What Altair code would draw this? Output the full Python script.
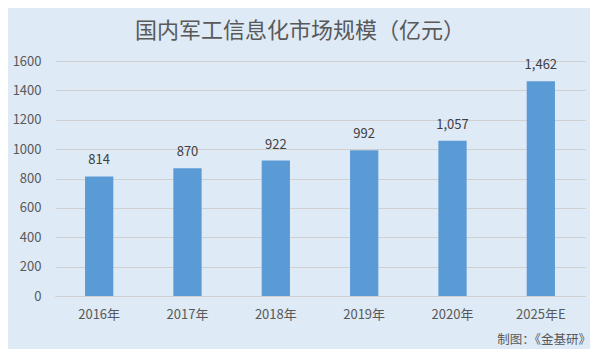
import altair as alt
import pandas as pd

years = ["2016年", "2017年", "2018年", "2019年", "2020年", "2025年E"]
values = [814, 870, 922, 992, 1057, 1462]

df = pd.DataFrame({"year": years, "value": values})

BG = "#DEEAF6"
TXT = "#595959"
FONT = "Noto Sans CJK SC"

base = alt.Chart(df).encode(
    x=alt.X("year:N", sort=years, title=None,
            scale=alt.Scale(paddingInner=0.68, paddingOuter=0.34),
            axis=alt.Axis(labelAngle=0, labelFontSize=13, labelColor=TXT,
                          labelFont=FONT, ticks=False, labelPadding=12,
                          domainColor="#D0D0D0", domainWidth=1)),
    y=alt.Y("value:Q", title=None,
            scale=alt.Scale(domain=[0, 1600]),
            axis=alt.Axis(values=list(range(0, 1601, 200)), format="d",
                          labelFontSize=13,
                          labelColor=TXT, labelFont=FONT, ticks=False,
                          domain=False, labelPadding=14, gridColor="#D0D0D0",
                          gridWidth=1)),
)

bars = base.mark_bar(color="#5B9BD5")
labels = base.mark_text(baseline="bottom", dy=-9, fontSize=13, color="#404040",
                        font=FONT).encode(text=alt.Text("value:Q", format=","))

footer = alt.Chart(pd.DataFrame({"t": ["制图：《金基研》"]})).mark_text(
    align="right", baseline="middle", fontSize=12.5, color=TXT, font=FONT
).encode(x=alt.value(536), y=alt.value(279), text="t:N")

chart = alt.layer(bars, labels, footer).properties(
    width=530, height=235,
    background=BG,
    padding={"left": 47, "top": 53, "right": 5, "bottom": 53},
    autosize=alt.AutoSizeParams(type="none"),
    title=alt.TitleParams("国内军工信息化市场规模（亿元）", fontSize=22,
                          color=TXT, font=FONT, fontWeight="normal",
                          anchor="middle", dx=-20, offset=12),
).configure_view(stroke=None)

chart.save("out.html", embed_options={"renderer": "svg", "actions": False})
